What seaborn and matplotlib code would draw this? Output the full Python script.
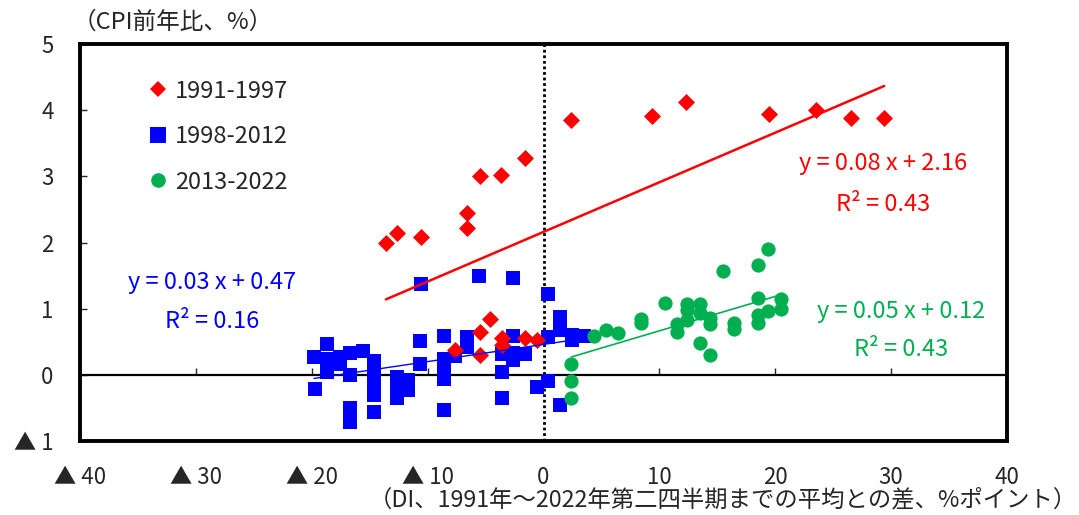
import numpy as np
import pandas as pd
import matplotlib
matplotlib.use("Agg")
import matplotlib.pyplot as plt
from matplotlib.lines import Line2D
import seaborn as sns

sns.set_style("white")
plt.rcParams['font.family'] = ['Noto Sans CJK JP', 'DejaVu Sans']

# --- data ---
red_x = [-13.6, -12.6, -10.6, -6.6, -6.6, -5.5, -3.7, -1.6, 2.4, 9.4, 12.3, 19.5, 23.5, 26.5, 29.4,
         -4.6, -5.5, -5.5, -3.6, -3.6, -1.6, -0.6, -7.6]
red_y = [1.99, 2.14, 2.08, 2.22, 2.45, 3.00, 3.02, 3.28, 3.85, 3.91, 4.12, 3.94, 4.00, 3.88, 3.88,
         0.85, 0.64, 0.30, 0.56, 0.45, 0.56, 0.53, 0.38]

blue_x = [-18.7, -19.8, -18.7, -18.7, -17.6, -16.7, -15.6, -16.7, -19.7, -14.6, -14.6, -14.6, -14.6,
          -14.6, -16.7, -16.7, -12.6, -12.6, -12.6, -11.7, -11.7, -10.7, -10.7, -10.6, -5.6, -2.6,
          -8.6, -6.6, -6.6, -8.6, -8.6, -8.6, -7.6, -8.6, -3.6, -2.6, -2.6, -2.6, -1.6, -3.6, -3.6,
          -0.6, 0.4, 0.4, 0.4, 1.4, 1.4, 2.5, 2.5, 3.5, 1.4, -17.6]
blue_y = [0.47, 0.27, 0.24, 0.05, 0.27, 0.33, 0.36, 0.00, -0.22, 0.21, 0.00, -0.10, -0.30,
          -0.56, -0.50, -0.71, -0.03, -0.18, -0.35, -0.08, -0.23, 0.51, 0.17, 1.37, 1.50, 1.46,
          0.59, 0.57, 0.42, 0.24, 0.08, -0.06, 0.29, -0.53, 0.31, 0.59, 0.33, 0.23, 0.31, 0.05, -0.35,
          -0.18, 1.22, 0.57, -0.10, 0.88, 0.68, 0.60, 0.52, 0.58, -0.45, 0.17]

green_x = [2.4, 2.4, 2.4, 4.4, 5.4, 6.4, 8.4, 8.4, 10.5, 11.5, 11.5, 12.4, 12.4, 12.4, 13.5, 13.5,
           13.5, 14.4, 14.4, 14.4, 15.5, 16.4, 16.4, 18.5, 18.5, 18.5, 18.5, 19.4, 19.4, 20.5, 20.5]
green_y = [0.17, -0.09, -0.35, 0.58, 0.68, 0.63, 0.78, 0.85, 1.09, 0.77, 0.64, 1.07, 0.98, 0.83, 1.07, 0.93,
           0.48, 0.86, 0.77, 0.30, 1.57, 0.78, 0.69, 1.66, 1.16, 0.91, 0.79, 1.90, 0.97, 1.15, 1.00]

periods = ['1991-1997', '1998-2012', '2013-2022']
# trend line coefficients (slope, intercept)
trend = {'1991-1997': (0.075, 2.16), '1998-2012': (0.026, 0.46), '2013-2022': (0.052, 0.145)}
eq_text = {'1991-1997': ('y = 0.08 x + 2.16', 'R² = 0.43'),
           '1998-2012': ('y = 0.03 x + 0.47', 'R² = 0.16'),
           '2013-2022': ('y = 0.05 x + 0.12', 'R² = 0.43')}

xticks = [-40, -30, -20, -10, 0, 10, 20, 30, 40]
xtick_labels = ['▲ 40', '▲ 30', '▲ 20', '▲ 10', '0', '10', '20', '30', '40']
yticks = [-1, 0, 1, 2, 3, 4, 5]
ytick_labels = ['▲ 1', '0', '1', '2', '3', '4', '5']

colors = {'1991-1997': '#FF0000', '1998-2012': '#0000FF', '2013-2022': '#00B050'}
markers = {'1991-1997': 'D', '1998-2012': 's', '2013-2022': 'o'}
sizes = {'1991-1997': 75, '1998-2012': 115, '2013-2022': 105}

df = pd.concat([
    pd.DataFrame({'x': red_x, 'y': red_y, 'period': '1991-1997'}),
    pd.DataFrame({'x': blue_x, 'y': blue_y, 'period': '1998-2012'}),
    pd.DataFrame({'x': green_x, 'y': green_y, 'period': '2013-2022'}),
])

fig = plt.figure(figsize=(10.79, 5.15), dpi=100)
ax = fig.add_axes([80/1079, 1-441/515, 927/1079, 397/515])

for p in ['1998-2012', '1991-1997', '2013-2022']:
    sub = df[df.period == p]
    sns.scatterplot(data=sub, x='x', y='y', color=colors[p], marker=markers[p],
                    s=sizes[p], linewidth=0, ax=ax, legend=False, zorder=3)

# trend lines
lw = {'1991-1997': 1.8, '1998-2012': 1.0, '2013-2022': 1.2}
for p in periods:
    sub = df[df.period == p]
    xs = np.array([sub.x.min(), sub.x.max()])
    a, b = trend[p]
    ax.plot(xs, a*xs + b, color=colors[p], lw=lw[p], zorder=4)

# equation labels
eq_pos = {'1991-1997': (29.3, 3.20, 2.58), '1998-2012': (-28.6, 1.40, 0.80), '2013-2022': (30.9, 0.95, 0.38)}
for p in periods:
    x0, y1, y2 = eq_pos[p]
    ax.text(x0, y1, eq_text[p][0], color=colors[p], fontsize=17, ha='center', va='center')
    ax.text(x0, y2, eq_text[p][1], color=colors[p], fontsize=17, ha='center', va='center')

ax.axvline(0, color='black', lw=2, ls=(0, (1, 1)), zorder=2)
ax.axhline(0, color='black', lw=1.6, zorder=2)

ax.set_xlim(-40, 40)
ax.set_ylim(-1, 5)
ax.set_xticks(xticks)
ax.set_xticklabels(xtick_labels, fontsize=16)
ax.set_yticks(yticks)
ax.set_yticklabels(ytick_labels, fontsize=16)
ax.tick_params(axis='x', length=0, pad=18)
ax.tick_params(axis='y', direction='in', length=5, width=1, pad=19, left=True)
ax.set_xlabel('')
ax.set_ylabel('')
for s in ax.spines.values():
    s.set_color('black')
    s.set_linewidth(2.8)

# ticks on the zero line
sec = ax.secondary_xaxis(1/6)
sec.set_xticks([-30, -20, -10, 10, 20, 30])
sec.tick_params(axis='x', direction='in', length=5, width=1, labelbottom=False, labeltop=False)
sec.spines['bottom'].set_visible(False)
sec.spines['top'].set_visible(False)

handles = [Line2D([], [], ls='', marker=markers[p], color=colors[p], markersize=ms, markeredgewidth=0)
           for p, ms in zip(periods, [8.5, 11, 10.5])]
ax.legend(handles, periods, loc='upper left', bbox_to_anchor=(0.073, 0.91), frameon=False,
          fontsize=17, handlelength=0.9, handletextpad=0.25, labelspacing=0.95, borderpad=0, borderaxespad=0)

fig.text(73/1079, 1-22/515, '（CPI前年比、%）', fontsize=17, ha='left', va='center')
fig.text(1077/1079, 1-500/515, '（DI、1991年～2022年第二四半期までの平均との差、%ポイント）',
         fontsize=16.8, ha='right', va='center')

fig.savefig('out.png', dpi=100)
